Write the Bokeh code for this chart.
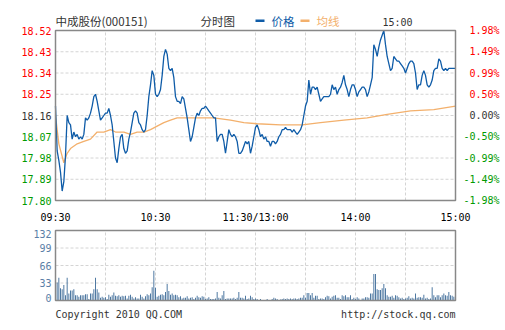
from bokeh.plotting import figure
from bokeh.models import Range1d, Label, BoxAnnotation
from bokeh.core.properties import value
from bokeh.embed import file_html
from bokeh.resources import INLINE

# ---------------- data ----------------
minutes = list(range(241))
price = [
    18.20, 18.01, 17.97, 17.92, 17.84, 17.88, 17.99, 18.16, 18.13, 18.12,
    18.06, 18.09, 18.07, 18.08, 18.06, 18.07, 18.06, 18.08, 18.15, 18.14,
    18.15, 18.17, 18.20, 18.24, 18.25, 18.22, 18.18, 18.14, 18.15, 18.16,
    18.17, 18.17, 18.19, 18.16, 18.12, 18.05, 17.98, 17.96, 18.02, 18.07,
    18.08, 18.02, 18.00, 18.01, 18.06, 18.09, 18.13, 18.17, 18.18, 18.17,
    18.13, 18.12, 18.10, 18.09, 18.10, 18.16, 18.24, 18.29, 18.35, 18.33,
    18.25, 18.24, 18.25, 18.27, 18.33, 18.41, 18.44, 18.42, 18.36, 18.35,
    18.36, 18.32, 18.24, 18.22, 18.22, 18.21, 18.24, 18.23, 18.19, 18.15,
    18.10, 18.05, 18.07, 18.11, 18.15, 18.17, 18.16, 18.18, 18.19, 18.19,
    18.20, 18.19, 18.18, 18.17, 18.16, 18.15, 18.15, 18.05, 18.07, 18.08,
    18.08, 18.05, 18.00, 18.05, 18.10, 18.08, 18.07, 18.08, 18.07, 18.05,
    18.00, 18.00, 18.01, 18.03, 18.05, 18.04, 18.05, 18.00, 18.03, 18.07,
    18.11, 18.12, 18.10, 18.07, 18.08, 18.06, 18.07, 18.05, 18.05, 18.03,
    18.05, 18.05, 18.04, 18.05, 18.07, 18.08, 18.10, 18.10, 18.11, 18.10,
    18.10, 18.10, 18.09, 18.10, 18.09, 18.08, 18.09, 18.10, 18.12, 18.16,
    18.20, 18.22, 18.31, 18.25, 18.28, 18.28, 18.27, 18.28, 18.25, 18.22,
    18.23, 18.24, 18.24, 18.24, 18.24, 18.25, 18.29, 18.27, 18.28, 18.25,
    18.27, 18.28, 18.30, 18.33, 18.29, 18.27, 18.24, 18.27, 18.29, 18.29,
    18.27, 18.24, 18.26, 18.27, 18.28, 18.28, 18.27, 18.24, 18.26, 18.29,
    18.32, 18.46, 18.44, 18.41, 18.45, 18.48, 18.50, 18.52, 18.46, 18.41,
    18.38, 18.35, 18.36, 18.41, 18.40, 18.39, 18.39, 18.38, 18.37, 18.36,
    18.34, 18.36, 18.38, 18.39, 18.39, 18.38, 18.34, 18.27, 18.29, 18.29,
    18.33, 18.35, 18.33, 18.29, 18.28, 18.29, 18.31, 18.35, 18.36, 18.36,
    18.40, 18.39, 18.36, 18.35, 18.36, 18.35, 18.36, 18.36, 18.36, 18.36,
    18.36,
]
avg_minutes = [0, 2, 5, 7, 9, 13, 17, 21, 25, 29, 33, 36, 41, 45, 49, 53, 57,
               61, 65, 69, 73, 85, 95, 105, 113, 121, 135, 148, 159, 173, 187,
               199, 213, 227, 240]
avg_price = [18.16, 18.04, 17.96, 18.00, 18.02, 18.04, 18.05, 18.06, 18.09,
             18.09, 18.10, 18.09, 18.09, 18.08, 18.09, 18.09, 18.10, 18.115,
             18.13, 18.14, 18.15, 18.15, 18.15, 18.14, 18.13, 18.125, 18.12,
             18.12, 18.13, 18.14, 18.15, 18.165, 18.18, 18.185, 18.20]
volume = [
    23, 34, 43, 23, 21, 29, 10, 43, 13, 19,
    19, 21, 10, 10, 7, 10, 10, 10, 12, 12,
    3, 13, 13, 21, 43, 21, 15, 5, 7, 5,
    6, 3, 11, 7, 10, 15, 9, 8, 10, 7,
    9, 8, 9, 4, 9, 11, 7, 4, 6, 4,
    4, 11, 7, 4, 8, 12, 10, 13, 25, 56,
    24, 7, 9, 11, 12, 10, 16, 31, 18, 11,
    13, 10, 11, 10, 6, 8, 4, 5, 5, 8,
    4, 5, 6, 3, 5, 9, 6, 5, 8, 7,
    3, 4, 6, 3, 3, 3, 4, 16, 5, 4,
    10, 18, 3, 4, 4, 4, 4, 5, 3, 5,
    16, 5, 5, 4, 9, 3, 4, 9, 6, 3,
    4, 3, 1, 3, 0, 1, 1, 3, 1, 1,
    3, 5, 4, 3, 1, 2, 3, 4, 3, 4,
    3, 4, 3, 4, 4, 3, 4, 5, 5, 10,
    5, 14, 14, 10, 14, 5, 9, 9, 3, 4,
    4, 3, 6, 9, 8, 4, 7, 9, 10, 5,
    5, 3, 10, 8, 10, 6, 6, 10, 3, 5,
    3, 6, 4, 0, 4, 4, 6, 6, 5, 13,
    13, 50, 50, 21, 20, 20, 23, 31, 23, 10,
    7, 7, 9, 5, 10, 9, 6, 4, 5, 3,
    4, 5, 8, 4, 5, 4, 13, 5, 6, 6,
    5, 11, 4, 5, 3, 4, 25, 10, 6, 10,
    10, 6, 10, 13, 10, 9, 16, 10, 9, 7,
    7,
]
prev_close = 18.16
price_ticks = [18.52, 18.43, 18.34, 18.25, 18.16, 18.07, 17.98, 17.89, 17.80]
time_ticks = [0, 60, 120, 180, 240]
time_labels = ["09:30", "10:30", "11:30/13:00", "14:00", "15:00"]
grid_minutes = [0, 30, 60, 90, 120, 150, 180, 210, 240]
vol_ticks = [0, 33, 66, 99, 132]
title_text = "中成股份(000151)"
chart_kind = "分时图"
legend_names = ["价格", "均线"]
now_time = "15:00"
copyright_text = "Copyright 2010 QQ.COM"
site_text = "http://stock.qq.com"

# ---------------- style / layout ----------------
W, H = 505, 330
PLOT_L, PLOT_R = 55, 455          # pixel box of both panels (x)
PRICE_T, PRICE_B = 30, 200        # price panel (y, from top)
VOL_T, VOL_B = 230, 300           # volume panel (y, from top)

MONO = "DejaVu Sans Mono"
CJK = "Noto Sans CJK SC"
BLUE = "#0f5ca8"
ORANGE = "#f3b06c"
RED = "#ff0000"
GREEN = "#009a00"
DARK = "#333333"
GRID = "#d4d4d4"
FRAME = "#888888"
VOLC = "#4f79a2"
VOLLAB = "#5a7ea6"

t0, t1 = grid_minutes[0], grid_minutes[-1]
p_lo, p_hi = min(price_ticks), max(price_ticks)
v_lo, v_hi = min(vol_ticks), max(vol_ticks)

# ranges chosen so that the whole canvas is the plotting frame and each panel
# lands on its pixel box
kx = (t1 - t0) / (PLOT_R - PLOT_L)
kp = (p_hi - p_lo) / (PRICE_B - PRICE_T)
kv = (v_hi - v_lo) / (VOL_B - VOL_T)
x_range = Range1d(t0 - PLOT_L * kx, t1 + (W - PLOT_R) * kx)
y_price = Range1d(p_lo - (H - PRICE_B) * kp, p_hi + PRICE_T * kp)
y_vol = Range1d(v_lo - (H - VOL_B) * kv, v_hi + VOL_T * kv)

p = figure(width=W, height=H, output_backend="svg", toolbar_location=None,
           x_range=x_range, y_range=y_price,
           x_axis_location=None, y_axis_location=None,
           min_border=0, min_border_left=0, min_border_right=0,
           min_border_top=0, min_border_bottom=0)
p.extra_y_ranges = {"vol": y_vol}
p.outline_line_color = None
p.background_fill_color = "white"
p.border_fill_color = "white"
p.grid.visible = False

# ---- price panel grid ----
p.segment(x0=[t0] * len(price_ticks), x1=[t1] * len(price_ticks),
          y0=price_ticks, y1=price_ticks,
          line_color=GRID, line_dash="3 2", line_width=1)
p.segment(x0=grid_minutes, x1=grid_minutes,
          y0=[p_lo] * len(grid_minutes), y1=[p_hi] * len(grid_minutes),
          line_color=GRID, line_dash="3 2", line_width=1)

# ---- series ----
p.line(avg_minutes, avg_price, line_color=ORANGE, line_width=1.3)
p.line(minutes, price, line_color=BLUE, line_width=1.3)

p.quad(left=[t0], right=[t1], bottom=[p_lo], top=[p_hi],
       fill_color=None, line_color=FRAME, line_width=1.5)


def tick_color(t):
    if abs(t - prev_close) < 1e-9:
        return DARK
    return RED if t > prev_close else GREEN


colors = [tick_color(t) for t in price_ticks]
left_text = [f"{t:.2f}" for t in price_ticks]
right_text = [f"{(t - prev_close) / prev_close * 100:.2f}%" for t in price_ticks]

p.text(x=[t0] * len(price_ticks), y=price_ticks, text=left_text,
       text_color=colors, x_offset=-4, text_align="right", text_baseline="middle",
       text_font=value(MONO), text_font_size="10px")
p.text(x=[t1] * len(price_ticks), y=price_ticks, text=right_text,
       text_color=colors, x_offset=44, text_align="right", text_baseline="middle",
       text_font=value(MONO), text_font_size="10px")
p.text(x=time_ticks, y=[p_lo] * len(time_ticks), text=time_labels,
       text_color="#000000", y_offset=17, text_align="center", text_baseline="middle",
       text_font=value(MONO), text_font_size="10px")

# ---- volume panel ----
p.segment(x0=[t0] * 3, x1=[t1] * 3, y0=vol_ticks[1:4], y1=vol_ticks[1:4],
          line_color=GRID, line_dash="3 2", line_width=1, y_range_name="vol")
p.segment(x0=grid_minutes, x1=grid_minutes,
          y0=[v_lo] * len(grid_minutes), y1=[v_hi] * len(grid_minutes),
          line_color=GRID, line_dash="3 2", line_width=1, y_range_name="vol")
p.vbar(x=minutes, top=volume, bottom=0, width=0.6, fill_color=VOLC,
       line_color=None, y_range_name="vol")
p.quad(left=[t0], right=[t1], bottom=[v_lo], top=[v_hi],
       fill_color=None, line_color=FRAME, line_width=1.5, y_range_name="vol")
p.text(x=[t0] * len(vol_ticks), y=vol_ticks, text=[str(t) for t in vol_ticks],
       text_color=VOLLAB, x_offset=-4, y_offset=[-3, 0, 0, 0, 3],
       text_align="right", text_baseline="middle",
       text_font=value(MONO), text_font_size="10px", y_range_name="vol")

# ---- header / footer (screen units: frame == canvas, y measured from bottom) ----
def lab(x, y_top, text, font, size, color, align="left"):
    p.add_layout(Label(x=x, y=H - y_top, x_units="screen", y_units="screen",
                       text=text, text_font=font, text_font_size=size,
                       text_color=color, text_baseline="middle", text_align=align))


lab(55, 20.5, title_text, CJK, "11.5px", DARK)
lab(200, 20.5, chart_kind, CJK, "11.5px", DARK)
lab(271, 20.5, legend_names[0], CJK, "11.5px", BLUE)
lab(316, 20.5, legend_names[1], CJK, "11.5px", ORANGE)
lab(397, 22, now_time, MONO, "10px", DARK, "center")
lab(55, 314, copyright_text, MONO, "10px", DARK)
lab(455, 314, site_text, MONO, "10px", DARK, "right")

for (x0, x1), c in zip([(255, 264), (300, 309)], [BLUE, ORANGE]):
    p.add_layout(BoxAnnotation(left=x0, right=x1, bottom=H - 21.5, top=H - 19,
                               left_units="screen", right_units="screen",
                               bottom_units="screen", top_units="screen",
                               fill_color=c, fill_alpha=1, line_alpha=0))

open("out.html", "w").write(file_html(p, INLINE))
